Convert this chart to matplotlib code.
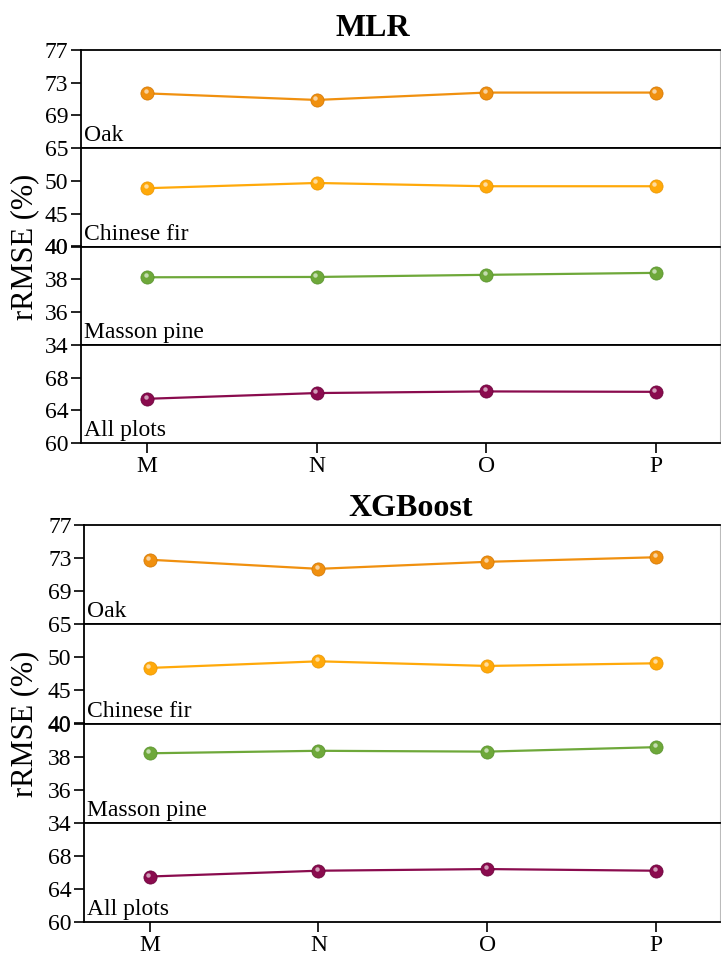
import matplotlib
matplotlib.use("Agg")
import matplotlib.pyplot as plt
from matplotlib.transforms import offset_copy

plt.rcParams['font.family'] = ['Liberation Serif', 'DejaVu Serif']

# x categories
cats = ["M", "N", "O", "P"]
species = ["Oak", "Chinese fir", "Masson pine", "All plots"]

# rRMSE (%)
mlr_oak = [71.7, 70.9, 71.8, 71.8]
mlr_fir = [48.9, 49.7, 49.2, 49.2]
mlr_pine = [38.12, 38.14, 38.27, 38.39]
mlr_all = [65.4, 66.1, 66.3, 66.25]

xgb_oak = [72.8, 71.7, 72.55, 73.1]
xgb_fir = [48.4, 49.4, 48.7, 49.1]
xgb_pine = [38.2, 38.35, 38.3, 38.57]
xgb_all = [65.5, 66.2, 66.4, 66.2]

# y ranges and ticks per panel
ylims = [(65, 77), (40, 55), (34, 40), (60, 72)]
yticks = [[65, 69, 73, 77], [40, 45, 50], [34, 36, 38, 40], [60, 64, 68]]
colors = ["#F0900F", "#FFA90A", "#6EA83A", "#8A0B4E"]
edge_colors = ["#D07400", "#E89400", "#55902A", "#660038"]


def draw_group(fig, left, top, bottom, title, title_x, title_y, series):
    W, H = 721.0, 958.0
    n = len(series)
    h = (bottom - top) / n
    axes = []
    for i, vals in enumerate(series):
        y0 = 1 - (top + (i + 1) * h) / H
        ax = fig.add_axes([left / W, y0, (720 - left) / W, h / H])
        x = list(range(len(cats)))
        ax.plot(x, vals, color=colors[i], lw=1.6, zorder=2)
        ax.plot(x, vals, ls="none", marker="o", ms=9.5, color=colors[i],
                mec=edge_colors[i], mew=0.5, zorder=3)
        hl = offset_copy(ax.transData, fig=fig, x=-1.0, y=1.4, units="points")
        ax.plot(x, vals, ls="none", marker="o", ms=3.2, color="white",
                mec="none", alpha=0.6, transform=hl, zorder=4)
        ax.set_xlim(-0.39, 3.38)
        ax.set_ylim(*ylims[i])
        ax.set_yticks(yticks[i])
        ax.tick_params(axis="y", direction="out", length=7, width=1.2,
                       labelsize=17, pad=2)
        ax.text(0.005, 0.02, species[i], transform=ax.transAxes,
                fontsize=17, ha="left", va="bottom")
        for s in ["left", "top", "bottom"]:
            ax.spines[s].set_linewidth(1.3)
        ax.spines["right"].set_color("#bbbbbb")
        ax.spines["right"].set_linewidth(0.8)
        if i < n - 1:
            ax.tick_params(axis="x", bottom=False, labelbottom=False)
        else:
            ax.set_xticks(x)
            ax.set_xticklabels(cats)
            ax.tick_params(axis="x", direction="out", length=7, width=1.2,
                           labelsize=17, pad=2.5)
        axes.append(ax)
    fig.text(title_x / W, 1 - title_y / H, title, fontsize=23,
             fontweight="bold", ha="center", va="center")
    fig.text(25 / W, 1 - (top + bottom) / 2 / H, "rRMSE (%)", fontsize=22,
             rotation=90, ha="center", va="center")
    return axes


fig = plt.figure(figsize=(7.21, 9.58), dpi=100)
draw_group(fig, 81, 50, 443, "MLR", 373, 28,
           [mlr_oak, mlr_fir, mlr_pine, mlr_all])
draw_group(fig, 84, 525, 922, "XGBoost", 411, 508,
           [xgb_oak, xgb_fir, xgb_pine, xgb_all])
fig.savefig("out.png", dpi=100)
